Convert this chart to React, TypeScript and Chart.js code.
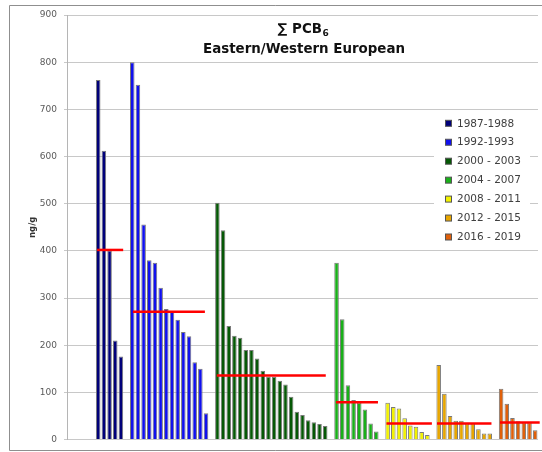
import React, { useEffect, useRef } from "react";
import { Chart, registerables } from "chart.js";

Chart.register(...registerables);

// ---- data ----
const titleMain = "∑ PCB";
const titleSub = "6";
const titleLine2 = "Eastern/Western European";
const yAxisTitle = "ng/g";

const groupLabels = [
  "1987-1988",
  "1992-1993",
  "2000 - 2003",
  "2004 - 2007",
  "2008 - 2011",
  "2012 - 2015",
  "2016 - 2019",
];
const values1987 = [762, 612, 401, 210, 176];
const values1992 = [800, 752, 456, 380, 375, 322, 277, 271, 254, 228, 219, 164, 150, 56];
const values2000 = [502, 444, 241, 220, 216, 190, 190, 172, 146, 133, 133, 125, 117, 91, 59, 52, 41, 37, 33, 29];
const values2004 = [375, 255, 115, 84, 78, 64, 34, 17];
const values2008 = [78, 69, 66, 45, 30, 27, 16, 10];
const values2012 = [158, 97, 50, 40, 40, 34, 34, 22, 13, 13];
const values2016 = [108, 76, 46, 39, 36, 36, 20];
const groupMeans = [402, 271, 136, 79, 34, 34, 36.5];
// mean line extent, in category units (index of first/last category covered)
const meanFrom = [4.8, 11.1, 25.9, 46.9, 55.8, 64.7, 75.8];
const meanTo = [9.4, 23.8, 45.1, 54.3, 63.8, 74.3, 82.8];

const groupValues = [values1987, values1992, values2000, values2004, values2008, values2012, values2016];
const leadingBlank = 5;
const gapBetweenGroups = 1;

const yMin = 0;
const yMax = 900;
const yStep = 100;

// ---- styles ----
const groupColors = ["#00007a", "#1010ee", "#055805", "#19b019", "#f2f200", "#e8a600", "#e0600a"];
const meanColor = "#ff0000";

export default function App() {
  const ref = useRef<HTMLCanvasElement>(null);

  useEffect(() => {
    if (!ref.current) return;

    // build categories
    const starts: number[] = [];
    let idx = leadingBlank;
    groupValues.forEach((g, i) => {
      starts.push(idx);
      idx += g.length + (i < groupValues.length - 1 ? gapBetweenGroups : 0);
    });
    const n = idx;
    const labels = Array.from({ length: n }, () => "");

    const barSets = groupValues.map((g, i) => {
      const data: (number | null)[] = Array.from({ length: n }, () => null);
      g.forEach((v, k) => (data[starts[i] + k] = v));
      return {
        type: "bar" as const,
        label: groupLabels[i],
        data,
        backgroundColor: groupColors[i],
        borderColor: "#7a7a7a",
        borderWidth: 1,
        grouped: false,
        barPercentage: 0.8,
        categoryPercentage: 1,
        xAxisID: "x",
        order: 2,
      };
    });

    const meanSets = groupMeans.map((m, i) => ({
      type: "line" as const,
      label: "mean " + groupLabels[i],
      data: [
        { x: meanFrom[i], y: m },
        { x: meanTo[i], y: m },
      ],
      borderColor: meanColor,
      borderWidth: 2.5,
      pointRadius: 0,
      fill: false,
      xAxisID: "xm",
      clip: false as any,
      order: 1,
    }));

    const decor = {
      id: "decor",
      beforeDraw(chart: any) {
        const ctx = chart.ctx;
        ctx.save();
        ctx.fillStyle = "#ffffff";
        ctx.fillRect(0, 0, chart.width, chart.height);
        ctx.strokeStyle = "#8f8f8f";
        ctx.lineWidth = 1;
        ctx.beginPath();
        ctx.moveTo(chart.width, 5.5);
        ctx.lineTo(9.5, 5.5);
        ctx.lineTo(9.5, 450.5);
        ctx.lineTo(chart.width, 450.5);
        ctx.stroke();
        ctx.restore();
      },
      afterDraw(chart: any) {
        const ctx = chart.ctx;
        const area = chart.chartArea;
        const cx = (area.left + area.right) / 2 + 0.5;
        ctx.save();
        // title
        ctx.fillStyle = "#111111";
        ctx.textBaseline = "alphabetic";
        ctx.textAlign = "left";
        const mainFont = 'bold 13.4px "DejaVu Sans"';
        const subFont = 'bold 9px "DejaVu Sans"';
        ctx.font = mainFont;
        const w1 = ctx.measureText(titleMain).width;
        ctx.font = subFont;
        const w2 = ctx.measureText(titleSub).width;
        const sx = cx - (w1 + w2) / 2;
        ctx.font = mainFont;
        ctx.fillText(titleMain, sx, 33);
        ctx.font = subFont;
        ctx.fillText(titleSub, sx + w1 + 0.5, 36);
        ctx.font = mainFont;
        ctx.textAlign = "center";
        ctx.fillText(titleLine2, cx + 1, 53);

        // legend
        const lx = 434, ly = 113, lw = 96, lh = 134;
        ctx.fillStyle = "#ffffff";
        ctx.fillRect(lx, ly, lw, lh);
        ctx.textAlign = "left";
        ctx.textBaseline = "middle";
        ctx.font = '10.5px "DejaVu Sans"';
        groupLabels.forEach((lab, i) => {
          const y = 123.3 + i * 18.95;
          ctx.fillStyle = groupColors[i];
          ctx.fillRect(445.5, y - 3, 6, 6);
          ctx.strokeStyle = "#555555";
          ctx.lineWidth = 1;
          ctx.strokeRect(445.5, y - 3, 6, 6);
          ctx.fillStyle = "#404040";
          ctx.fillText(lab, 457, y + 0.5);
        });
        ctx.restore();
      },
    };

    const chart = new Chart(ref.current, {
      data: { labels, datasets: [...meanSets, ...barSets] as any },
      options: {
        responsive: false,
        animation: false,
        devicePixelRatio: 1,
        layout: { padding: { left: 0, top: 15, right: 4, bottom: 10 } },
        plugins: {
          legend: { display: false },
          tooltip: { enabled: false },
          title: { display: false },
        },
        scales: {
          x: {
            type: "category",
            display: false,
            offset: true,
          },
          xm: {
            type: "linear",
            display: false,
            min: -0.5,
            max: n - 0.5,
          },
          y: {
            min: yMin,
            max: yMax,
            ticks: {
              stepSize: yStep,
              color: "#5a5a5a",
              font: { family: "DejaVu Sans", size: 9 },
              padding: 7,
            },
            grid: { color: "#c8c8c8", lineWidth: 1, tickLength: 3 },
            border: { color: "#b5b5b5" },
            title: {
              display: true,
              text: yAxisTitle,
              color: "#333333",
              font: { family: "DejaVu Sans", size: 8.5, weight: "bold" },
              padding: { top: 28, bottom: 0 },
            },
            afterFit: (s: any) => {
              s.width = 67;
            },
          },
        },
      },
      plugins: [decor],
    } as any);

    return () => chart.destroy();
  }, []);

  return (
    <div style={{ position: "fixed", left: 0, top: 0, width: 542, height: 452, background: "#fff" }}>
      <canvas ref={ref} width={542} height={452} style={{ display: "block", width: 542, height: 452 }} />
    </div>
  );
}
